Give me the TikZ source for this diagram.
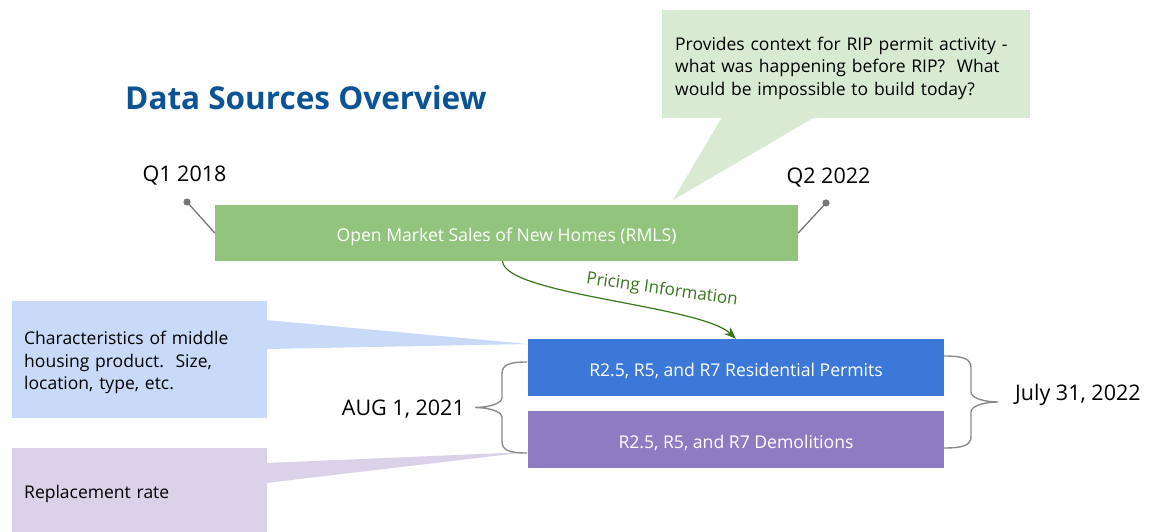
\documentclass[tikz,border=0pt]{standalone}
\usepackage{fontspec}
\setmainfont{Open Sans}
\usetikzlibrary{arrows.meta}
\definecolor{titleblue}{HTML}{0B5394}
\definecolor{salesgreen}{HTML}{93C47D}
\definecolor{notegreen}{HTML}{D9EAD3}
\definecolor{noteblue}{HTML}{C9DAF8}
\definecolor{notepurple}{HTML}{D9D2E9}
\definecolor{permitblue}{HTML}{3C78D8}
\definecolor{demopurple}{HTML}{8E7CC3}
\definecolor{arrowgreen}{HTML}{38761D}
\definecolor{pingray}{HTML}{777777}
\definecolor{bracegray}{HTML}{8A8A8A}
\tikzstyle{block}=[fill=#1,text=white,inner sep=0pt,minimum height=57pt,text height=18pt,text depth=0pt,font=\fontsize{17.6}{20}\selectfont]
\tikzstyle{note}=[fill=#1,inner xsep=12pt,inner ysep=0pt,align=left,anchor=north west,font=\fontsize{17.5}{22.5}\selectfont]
\tikzstyle{date}=[inner sep=0pt,font=\fontsize{21.5}{24}\selectfont]
\newcommand{\pin}[3]{\coordinate (#1) at (#2); \fill[pingray] (#1) circle (3.6pt); \draw[pingray,line width=1.3pt] (#1) -- (#3);}
% tip x, arm x, point x, top y, bottom y
\newcommand{\curly}[5]{\draw[bracegray,line width=1.4pt] (#1,#4) .. controls ({#2+0.25*(#1-#2)},#4) and (#2,#4+3) .. (#2,#4+12) -- (#2,{(#4+#5)/2-10}) .. controls (#2,{(#4+#5)/2-3}) and ({#3+0.4*(#2-#3)},{(#4+#5)/2}) .. (#3,{(#4+#5)/2}) .. controls ({#3+0.4*(#2-#3)},{(#4+#5)/2}) and (#2,{(#4+#5)/2+3}) .. (#2,{(#4+#5)/2+10}) -- (#2,#5-12) .. controls (#2,#5-3) and ({#2+0.25*(#1-#2)},#5) .. (#1,#5);}

\begin{document}
\begin{tikzpicture}[x=1pt,y=-1pt]
    \path[use as bounding box,clip] (0,0) rectangle (1164,532);

    % callout shapes first, boxes on top
    \fill[notegreen] (722,117) -- (673,200) -- (815,117) -- cycle;
    \fill[noteblue] (266,320) -- (528,344) -- (266,349) -- cycle;
    \fill[notepurple] (266,463) -- (528,452) -- (266,483) -- cycle;

    \node[note=notegreen,minimum width=368pt,minimum height=108pt,inner xsep=13pt,text width=342pt] (context) at (662,10)
        {\rule{0pt}{21pt}Provides context for RIP permit activity -\\what was happening before RIP?\ \ What\\would be impossible to build today?};
    \node[note=noteblue,minimum width=255pt,minimum height=117pt,text width=231pt] (chars) at (12,301)
        {\rule{0pt}{19pt}Characteristics of middle\\housing product.\ \ Size,\\location, type, etc.};
    \node[note=notepurple,minimum width=255pt,minimum height=92pt,text width=231pt] (repl) at (12,448)
        {Replacement rate};

    \node[anchor=base west,text=titleblue,inner sep=0pt,font=\fontsize{31.5}{36}\selectfont\bfseries] (title) at (125,110) {Data Sources Overview};

    \node[block=salesgreen,minimum width=583pt,minimum height=56pt,text height=16pt] (sales) at (506.5,233) {Open Market Sales of New Homes (RMLS)};
    \node[block=permitblue,minimum width=416pt] (permit) at (736,367.5) {R2.5, R5, and R7 Residential Permits};
    \node[block=demopurple,minimum width=416pt] (demo) at (736,439.5) {R2.5, R5, and R7 Demolitions};

    \node[date,anchor=base] (q1) at (184.5,181) {Q1 2018};
    \node[date,anchor=base] (q2) at (828.5,183) {Q2 2022};
    \node[date,anchor=base east] (start) at (465,415) {AUG 1, 2021};
    \node[date,anchor=base west] (end) at (1015,400) {July 31, 2022};

    \pin{q1pin}{187,202}{sales.west}
    \pin{q2pin}{826,203}{sales.east}

    \draw[arrowgreen,line width=1.2pt,-{Stealth[length=12pt,width=9pt]}] ([xshift=-4pt]sales.south) .. controls (505,295) and (700,305) .. (permit.north);
    \node[text=arrowgreen,rotate=-8,inner sep=0pt,font=\fontsize{17}{20}\selectfont] (pricing) at (662,290) {Pricing Information};

    \curly{527}{502}{475}{362}{453}
    \curly{944}{971}{998}{356}{448}

\end{tikzpicture}
\end{document}
